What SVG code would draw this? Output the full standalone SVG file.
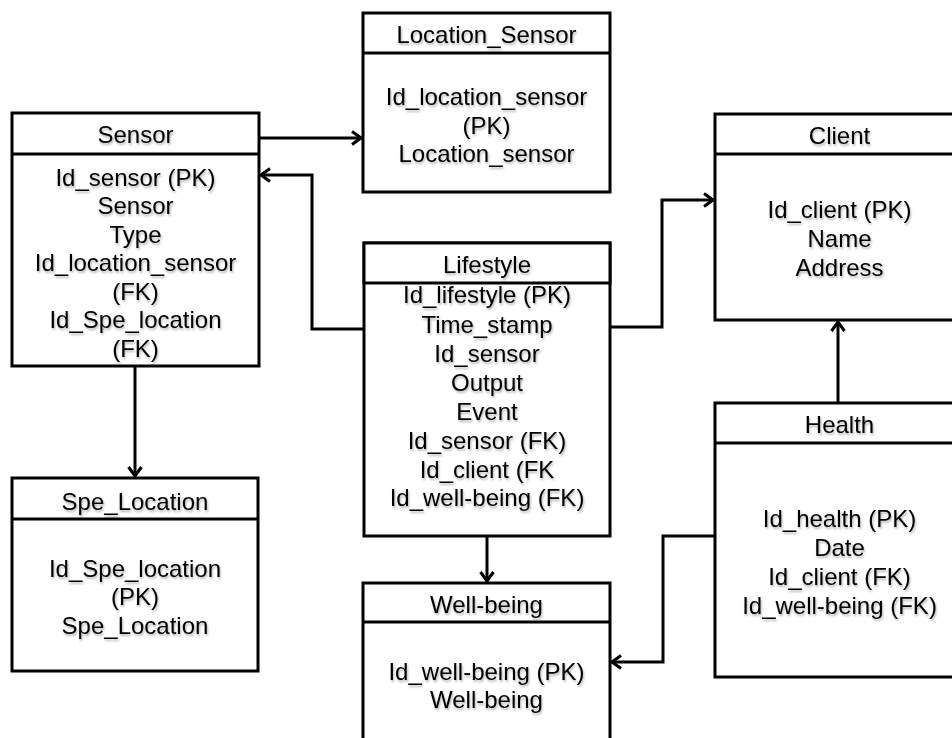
<svg xmlns="http://www.w3.org/2000/svg" width="952" height="738" viewBox="0 0 952 738">
<style>
.box{fill:#fff;stroke:#000;stroke-width:3}
.t{font-family:"Liberation Sans",Arial,sans-serif;font-size:24px;fill:#000;text-anchor:middle;filter:url(#sh)}
.c{fill:none;stroke:#000;stroke-width:3;marker-end:url(#ah)}
</style>
<defs>
<filter id="sh" x="-10%" y="-30%" width="120%" height="160%">
<feDropShadow dx="1" dy="2" stdDeviation="1.2" flood-color="#000" flood-opacity="0.3"/>
</filter>
<marker id="ah" markerUnits="userSpaceOnUse" markerWidth="14" markerHeight="16" refX="12" refY="8" orient="auto">
<path d="M3,1.5 L12,8 L3,14.5" fill="none" stroke="#000" stroke-width="3"/>
</marker>
</defs>
<rect width="952" height="738" fill="#fff"/>
<g id="connectors">
<path class="c" d="M259,138 H361"/>
<path class="c" d="M364,329 H312 V175 H261"/>
<path class="c" d="M610,327 H662 V200 H713"/>
<path class="c" d="M838,403 V322"/>
<path class="c" d="M715,536 H663 V662 H612"/>
<path class="c" d="M135,366 V476"/>
<path class="c" d="M487,536 V581"/>
</g>
<g id="sensor">
<rect class="box" x="12" y="113" width="247" height="253"/>
<line class="box" x1="12" y1="154" x2="259" y2="154"/>
<text class="t" x="135.5" y="143">Sensor</text>
<text class="t" x="135.5" y="186">Id_sensor (PK)</text>
<text class="t" x="135.5" y="214">Sensor</text>
<text class="t" x="135.5" y="243">Type</text>
<text class="t" x="135.5" y="271">Id_location_sensor</text>
<text class="t" x="135.5" y="300">(FK)</text>
<text class="t" x="135.5" y="328">Id_Spe_location</text>
<text class="t" x="135.5" y="357">(FK)</text>
</g>
<g id="location_sensor">
<rect class="box" x="363" y="13" width="247" height="179"/>
<line class="box" x1="363" y1="53" x2="610" y2="53"/>
<text class="t" x="486.5" y="43">Location_Sensor</text>
<text class="t" x="486.5" y="105">Id_location_sensor</text>
<text class="t" x="486.5" y="134">(PK)</text>
<text class="t" x="486.5" y="162">Location_sensor</text>
</g>
<g id="lifestyle">
<rect class="box" x="364" y="243" width="246" height="293"/>
<text class="t" x="487" y="303">Id_lifestyle (PK)</text>
<rect x="364" y="243" width="246" height="40" fill="#fff"/>
<rect class="box" x="364" y="243" width="246" height="40" fill="none"/>
<text class="t" x="487" y="273">Lifestyle</text>
<text class="t" x="487" y="333">Time_stamp</text>
<text class="t" x="487" y="362">Id_sensor</text>
<text class="t" x="487" y="391">Output</text>
<text class="t" x="487" y="420">Event</text>
<text class="t" x="487" y="449">Id_sensor (FK)</text>
<text class="t" x="487" y="478">Id_client (FK</text>
<text class="t" x="487" y="506">Id_well-being (FK)</text>
</g>
<g id="client">
<rect class="box" x="715" y="114" width="248" height="206"/>
<line class="box" x1="715" y1="154" x2="963" y2="154"/>
<text class="t" x="839.5" y="144">Client</text>
<text class="t" x="839.5" y="218">Id_client (PK)</text>
<text class="t" x="839.5" y="247">Name</text>
<text class="t" x="839.5" y="276">Address</text>
</g>
<g id="health">
<rect class="box" x="715" y="403" width="248" height="274"/>
<line class="box" x1="715" y1="443" x2="963" y2="443"/>
<text class="t" x="839.5" y="433">Health</text>
<text class="t" x="839.5" y="527">Id_health (PK)</text>
<text class="t" x="839.5" y="556">Date</text>
<text class="t" x="839.5" y="585">Id_client (FK)</text>
<text class="t" x="839.5" y="614">Id_well-being (FK)</text>
</g>
<g id="spe_location">
<rect class="box" x="12" y="478" width="246" height="193"/>
<line class="box" x1="12" y1="519" x2="258" y2="519"/>
<text class="t" x="135" y="510">Spe_Location</text>
<text class="t" x="135" y="577">Id_Spe_location</text>
<text class="t" x="135" y="605">(PK)</text>
<text class="t" x="135" y="634">Spe_Location</text>
</g>
<g id="well_being">
<rect class="box" x="363" y="583" width="247" height="170"/>
<line class="box" x1="363" y1="622" x2="610" y2="622"/>
<text class="t" x="486.5" y="613">Well-being</text>
<text class="t" x="486.5" y="680">Id_well-being (PK)</text>
<text class="t" x="486.5" y="708">Well-being</text>
</g>
</svg>
